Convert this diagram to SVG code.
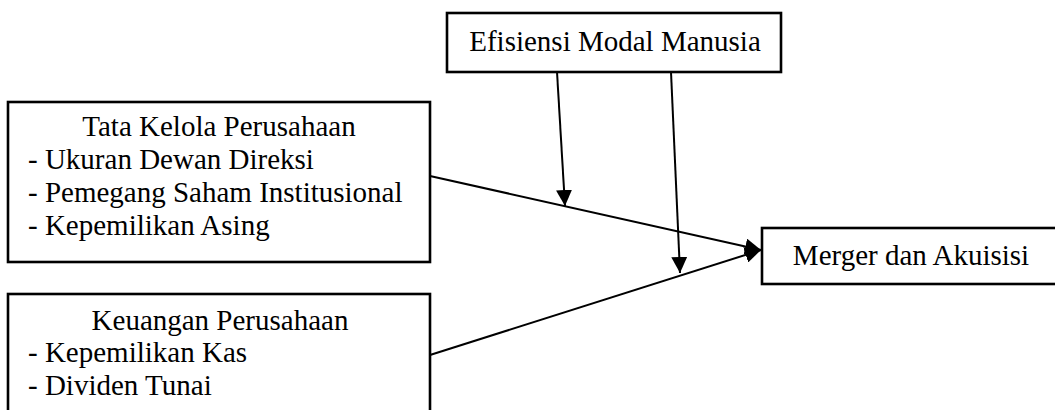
<svg xmlns="http://www.w3.org/2000/svg" width="1055" height="410" viewBox="0 0 1055 410">
<defs>
<style>
.box{fill:#fff;stroke:#000;stroke-width:2.6}
.t{font-family:"Liberation Serif","Times New Roman",serif;font-size:29px;fill:#000}
.c{text-anchor:middle}
.ln{stroke:#000;stroke-width:2;fill:none;marker-end:url(#ah)}
</style>
<marker id="ah" markerUnits="userSpaceOnUse" markerWidth="16" markerHeight="16" refX="16" refY="8" orient="auto" viewBox="0 0 16 16">
<path d="M0,0 L16,8 L0,16 Z" fill="#000"/>
</marker>
</defs>
<rect width="1055" height="410" fill="#fff"/>
<g id="connectors">
<line class="ln" x1="430" y1="176" x2="761" y2="250"/>
<line class="ln" x1="430" y1="355" x2="761" y2="250"/>
<line class="ln" x1="557" y1="72" x2="565" y2="206"/>
<line class="ln" x1="671" y1="72" x2="680" y2="273"/>
</g>
<g id="node-emm">
<rect class="box" x="447" y="13" width="334" height="59"/>
<text class="t c" x="615" y="51">Efisiensi Modal Manusia</text>
</g>
<g id="node-tkp">
<rect class="box" x="8" y="102" width="422" height="160"/>
<text class="t c" x="219" y="136">Tata Kelola Perusahaan</text>
<text class="t" x="28" y="169">- Ukuran Dewan Direksi</text>
<text class="t" x="28" y="202">- Pemegang Saham Institusional</text>
<text class="t" x="28" y="235">- Kepemilikan Asing</text>
</g>
<g id="node-kp">
<rect class="box" x="8" y="294" width="422" height="130"/>
<text class="t c" x="220" y="330">Keuangan Perusahaan</text>
<text class="t" x="28" y="362">- Kepemilikan Kas</text>
<text class="t" x="28" y="395">- Dividen Tunai</text>
</g>
<g id="node-mda">
<rect class="box" x="762" y="228" width="300" height="56"/>
<text class="t c" x="911" y="265">Merger dan Akuisisi</text>
</g>
</svg>
